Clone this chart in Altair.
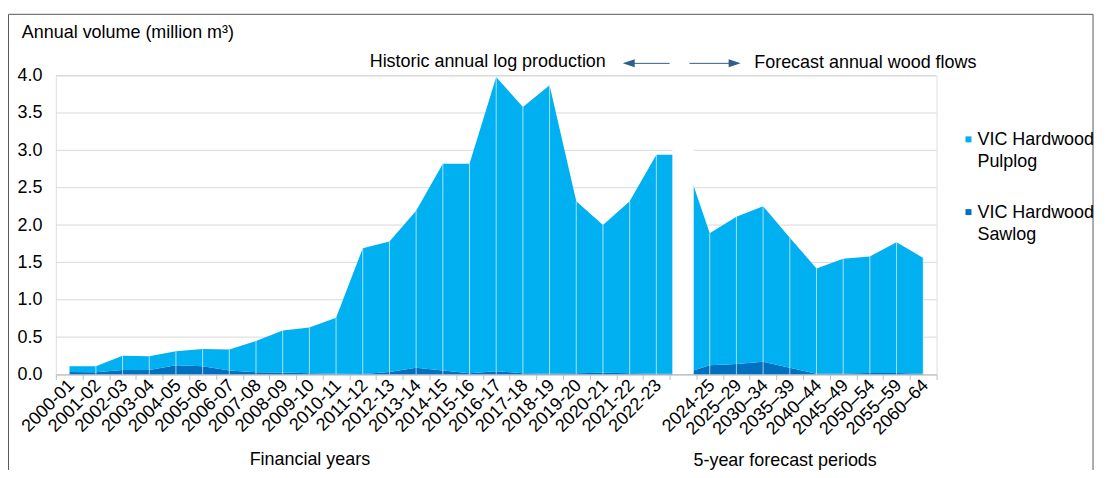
import altair as alt
import pandas as pd

# ---------------- data ----------------
categories = ["2000-01", "2001-02", "2002-03", "2003-04", "2004-05", "2005-06",
              "2006-07", "2007-08", "2008-09", "2009-10", "2010-11", "2011-12",
              "2012-13", "2013-14", "2014-15", "2015-16", "2016-17", "2017-18",
              "2018-19", "2019-20", "2020-21", "2021-22", "2022-23", " ",
              "2024-25", "2025–29", "2030–34", "2035–39", "2040–44", "2045–49",
              "2050–54", "2055–59", "2060–64"]

sawlog = [0.035, 0.03, 0.06, 0.06, 0.125, 0.11, 0.055, 0.03, 0.027, 0.018,
          0.01, 0.008, 0.035, 0.09, 0.054, 0.018, 0.045, 0.018, 0.01, 0.018,
          0.022, 0.018, 0.01, 0.01,
          0.125, 0.14, 0.17, 0.09, 0.01, 0.015, 0.02, 0.02, 0.01]

pulplog = [0.075, 0.08, 0.19, 0.185, 0.185, 0.23, 0.28, 0.42, 0.563, 0.612,
           0.75, 1.682, 1.745, 2.10, 2.766, 2.802, 3.935, 3.562, 3.86, 2.302,
           1.978, 2.302, 2.93, 2.93,
           1.765, 1.97, 2.08, 1.74, 1.41, 1.535, 1.56, 1.75, 1.55]

series_names = ["VIC Hardwood Pulplog", "VIC Hardwood Sawlog"]
series_colors = ["#00B0F0", "#0070C0"]
gap_category = " "
gap_top = 3.05
y_ticks = [0.0, 0.5, 1.0, 1.5, 2.0, 2.5, 3.0, 3.5, 4.0]

rows = []
for c, s, p in zip(categories, sawlog, pulplog):
    rows.append({"cat": c, "series": series_names[1], "value": s, "ord": 0})
    rows.append({"cat": c, "series": series_names[0], "value": p, "ord": 1})
long_df = pd.DataFrame(rows)

wide = pd.DataFrame({"cat": categories, "saw": sawlog, "pulp": pulplog})
wide["value"] = wide["saw"] + wide["pulp"]
wide["base"] = 0.0
drops = wide[wide["cat"] != gap_category]
gap_df = pd.DataFrame({"cat": [gap_category], "value": [gap_top], "base": [0.0]})
grid_df = pd.DataFrame({"value": y_ticks})
one = pd.DataFrame({"a": [0]})

# ---------------- style ----------------
W, H = 884, 300
FONT = "Liberation Sans"
FS = 18
TXT = "#000000"

xscale = alt.Scale(paddingInner=0, paddingOuter=0)
xaxis = alt.Axis(title=None, labelAngle=315, labelAlign="right", labelBaseline="middle",
                 labelFont=FONT, labelFontSize=FS, labelColor=TXT, labelPadding=3,
                 labelOffset=2, labelOverlap=False, labelBound=False,
                 tickBand="extent", ticks=True, tickSize=5, tickColor="#BFBFBF",
                 domainColor="#BFBFBF", domainWidth=1, grid=False, zindex=1)
x_center = alt.X("cat:N", sort=categories, bandPosition=0.5, scale=xscale, axis=xaxis)
x_band = alt.X("cat:N", sort=categories, scale=xscale, axis=xaxis)

yscale = alt.Scale(domain=[0, 4], nice=False, zero=True)
yaxis = alt.Axis(values=y_ticks, labelExpr="format(datum.value, '.1f')",
                 domain=False, ticks=False, grid=False, labelFont=FONT,
                 labelFontSize=FS, labelColor=TXT, labelPadding=14, labelOverlap=False,
                 title="Annual volume (million m³)", titleAngle=0, titleAlign="left",
                 titleBaseline="middle", titleX=-34.6, titleY=-43.5,
                 titleFont=FONT, titleFontSize=FS, titleFontWeight="normal",
                 titleColor=TXT)
y_enc = alt.Y("value:Q", stack="zero", scale=yscale, axis=yaxis)
y_plain = alt.Y("value:Q", stack=None, scale=yscale, axis=yaxis)

legend = alt.Legend(orient="none", legendX=907, legendY=61, title=None,
                    symbolType="M-1,-3L1,-3L1,-1L-1,-1Z", symbolSize=36,
                    symbolStrokeWidth=0, labelFont=FONT, labelFontSize=FS,
                    labelColor=TXT, labelBaseline="alphabetic", labelOffset=0,
                    labelLimit=300, rowPadding=33, padding=0,
                    labelExpr="['VIC Hardwood', slice(datum.label, 13)]")

grid = alt.Chart(grid_df).mark_rule(color="#D9D9D9", strokeWidth=1).encode(
    y=y_plain, x=alt.value(0), x2=alt.value(W)
)

areas = alt.Chart(long_df).mark_area(interpolate="linear").encode(
    x=x_center,
    y=y_enc,
    color=alt.Color("series:N", scale=alt.Scale(domain=series_names, range=series_colors),
                    legend=legend),
    order=alt.Order("ord:Q"),
)

drop_lines = alt.Chart(drops).mark_rule(color="white", strokeWidth=1, opacity=0.65).encode(
    x=x_center, y=y_plain, y2="base:Q"
)

gap_bar = alt.Chart(gap_df).mark_bar(color="white", width=alt.RelativeBandSize(0.8)).encode(
    x=x_band, y=y_plain, y2="base:Q"
)

def label(text, x, y, align):
    return alt.Chart(pd.DataFrame({"t": [text]})).mark_text(
        font=FONT, fontSize=FS, color=TXT, align=align, baseline="middle"
    ).encode(x=alt.value(x), y=alt.value(y), text="t:N")

hist_txt = label("Historic annual log production", 552, -14, "right")
fore_txt = label("Forecast annual wood flows", 701, -13, "left")
fin_txt = label("Financial years", 255, 386, "center")
per_txt = label("5-year forecast periods", 732, 387, "center")

ARROW = "#2F5D8C"
arrow_l = alt.Chart(one).mark_rule(color=ARROW, strokeWidth=1).encode(
    x=alt.value(571), x2=alt.value(616), y=alt.value(-12.3))
arrow_r = alt.Chart(one).mark_rule(color=ARROW, strokeWidth=1).encode(
    x=alt.value(636), x2=alt.value(685), y=alt.value(-12.3))
head_l = alt.Chart(one).mark_point(shape="M0,0L3,-1L3,1Z", size=64, filled=True,
                                   color=ARROW, opacity=1).encode(
    x=alt.value(569), y=alt.value(-12.3))
head_r = alt.Chart(one).mark_point(shape="M0,0L-3,-1L-3,1Z", size=64, filled=True,
                                   color=ARROW, opacity=1).encode(
    x=alt.value(687.3), y=alt.value(-12.3))

border = alt.Chart(one).mark_rect(fillOpacity=0, stroke="#595959", strokeWidth=1).encode(
    x=alt.value(-47.5), x2=alt.value(1041), y=alt.value(-61.5), y2=alt.value(430))

chart = alt.layer(
    grid, areas, drop_lines, gap_bar, hist_txt, fore_txt, fin_txt, per_txt,
    arrow_l, arrow_r, head_l, head_r, border
).properties(
    width=W, height=H,
    padding={"left": 48, "top": 67, "right": 162, "bottom": 95},
    autosize="none",
).configure_view(stroke=None).configure(
    background="white", style={"guide-label": {"lineHeight": 21.7}}
)

chart.save("out.html", embed_options={"renderer": "svg", "actions": False})
